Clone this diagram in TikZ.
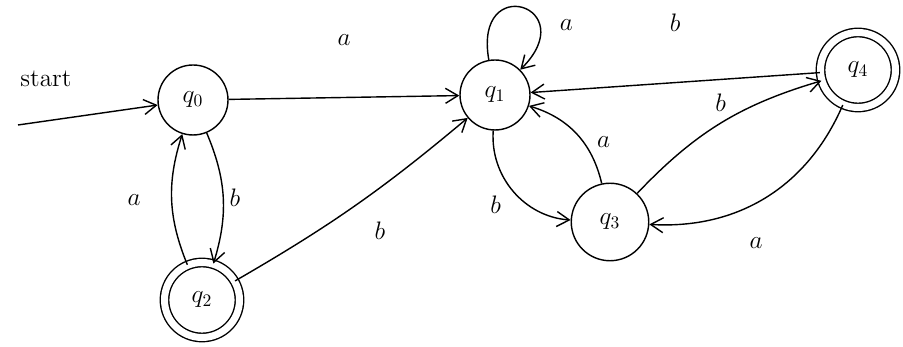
\documentclass[tikz,border=0pt]{standalone}
\usetikzlibrary{arrows.meta, positioning, calc}
\tikzset{
    state/.style={circle, draw, thick, minimum size=1.4cm, inner sep=0pt, font=\Large},
    accepting/.style={state, double, double distance=4pt, minimum size=1.5cm},
    edge/.style={thick, -{Straight Barb[length=2.5mm, width=3mm]}},
    lbl/.style={font=\Large}
}
\begin{document}
\begin{tikzpicture}[x=0.02cm, y=0.02cm]
    \useasboundingbox (0,0) rectangle (903,347);
    \node[state] (q0) at (193,247) {$q_0$};
    \node[state] (q1) at (495,252) {$q_1$};
    \node[accepting] (q2) at (202,47) {$q_2$};
    \node[state, minimum size=1.55cm] (q3) at (610,125) {$q_3$};
    \node[accepting] (q4) at (858,277) {$q_4$};
    \coordinate (s) at (18,222);

    \draw[edge] (s) to node[lbl, above=16pt, pos=0.2] {start} (q0);
    \draw[edge] (q0) to node[lbl, above=0.9cm] {$a$} (q1);
    \draw[edge] (q0) to[bend left=20] node[lbl, right] {$b$} (q2);
    \draw[edge] (q2) to[bend left=20] node[lbl, left=14pt] {$a$} (q0);
    \draw[edge] (q2) to[bend right=5] node[lbl, below right=0.2cm and 0.25cm] {$b$} (q1);
    \draw[edge] (q1) to[out=100, in=45, looseness=7] node[lbl, right=8pt, pos=0.72] {$a$} (q1);
    \draw[edge] (q4) to node[lbl, above=0.9cm] {$b$} (q1);
    \draw[edge] (q1) to[bend right=45] node[lbl, left=0.4cm, pos=0.65] {$b$} (q3);
    \draw[edge] (q3) to[bend right=30] node[lbl, right=4pt, pos=0.4] {$a$} (q1);
    \draw[edge] (q3) to[bend left=15] node[lbl, above=3pt] {$b$} (q4);
    \draw[edge] (q4) to[bend left=35] node[lbl, below=16pt, pos=0.55] {$a$} (q3);
\end{tikzpicture}
\end{document}
